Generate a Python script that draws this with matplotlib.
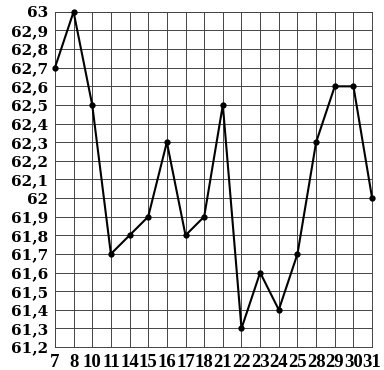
import numpy as np
import matplotlib
matplotlib.use("Agg")
import matplotlib.pyplot as plt

# days of the month (x categories) and the measured values
days = ["7", "8", "10", "11", "14", "15", "16", "17", "18",
        "21", "22", "23", "24", "25", "28", "29", "30", "31"]
values = [62.7, 63.0, 62.5, 61.7, 61.8, 61.9, 62.3, 61.8, 61.9,
          62.5, 61.3, 61.6, 61.4, 61.7, 62.3, 62.6, 62.6, 62.0]
y_ticks = [61.2, 61.3, 61.4, 61.5, 61.6, 61.7, 61.8, 61.9, 62.0,
           62.1, 62.2, 62.3, 62.4, 62.5, 62.6, 62.7, 62.8, 62.9, 63.0]

plt.rcParams['font.family'] = ['DejaVu Serif']

fig = plt.figure(figsize=(3.84, 3.70), dpi=100)
ax = fig.add_axes([0.143, 0.062, 0.826, 0.906])

x = np.arange(len(days))
ax.plot(x, values, color="black", lw=1.5, marker="o", ms=3.5, zorder=3,
        clip_on=False)

ax.set_xlim(0, len(days) - 1)
ax.set_ylim(61.2, 63.0)
ax.set_xticks(x)
ax.set_xticklabels(days, family=['Liberation Serif', 'DejaVu Serif'],
                   fontsize=13.5, fontweight="bold")
ax.set_yticks(y_ticks)
ax.set_yticklabels([f"{v:g}".replace(".", ",") for v in y_ticks],
                   fontsize=11, fontweight="bold")

ax.grid(True, color="#444444", lw=0.7)
for s in ax.spines.values():
    s.set_color("#444444")
    s.set_linewidth(0.7)
ax.tick_params(length=0, pad=5)

fig.savefig("out.png", dpi=100)
